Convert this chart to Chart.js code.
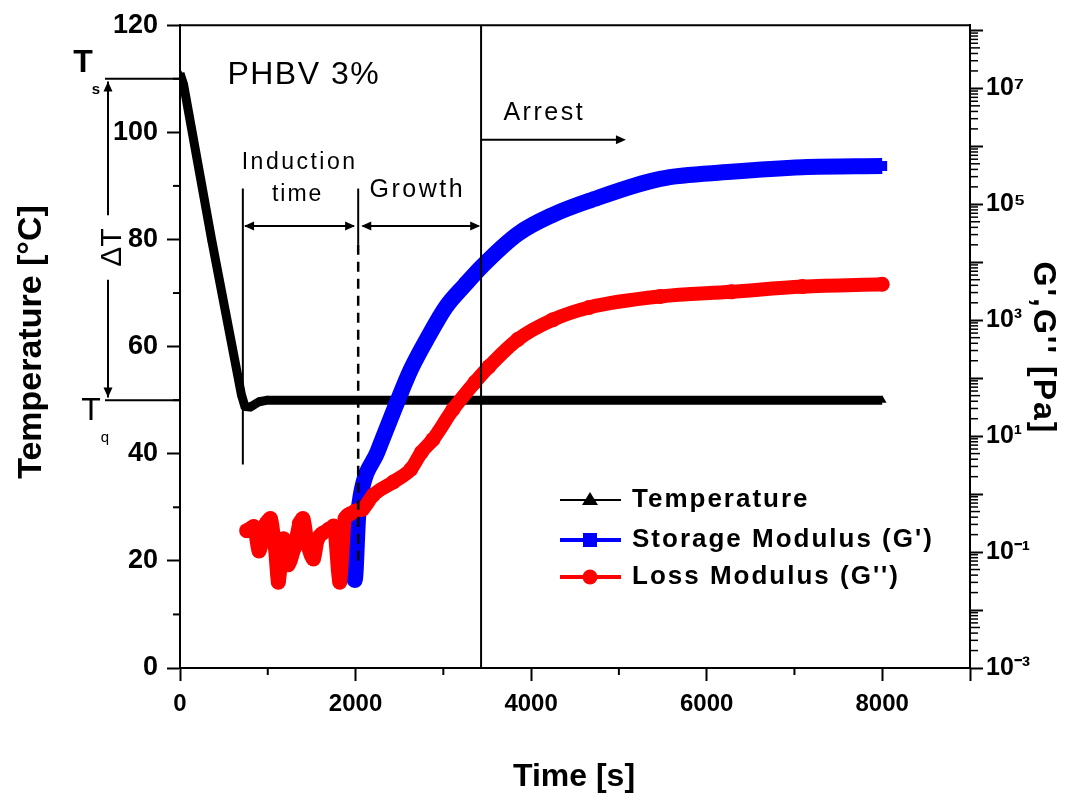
<!DOCTYPE html>
<html>
<head>
<meta charset="utf-8">
<title>PHBV 3% isothermal crystallization</title>
<script src="https://cdn.jsdelivr.net/npm/chart.js@4.4.1/dist/chart.umd.min.js"></script>
<style>
  html, body { margin: 0; padding: 0; background: #fff; }
  #wrap { width: 1087px; height: 804px; }
</style>
</head>
<body>
<div id="wrap"><canvas id="chart" width="1087" height="804"></canvas></div>
<script>
// temperature program, time in s and T in °C
const tempTime = [0, 40, 360, 700, 740, 800, 900, 1000, 8000];
const tempValues = [111, 109, 80, 51, 48.8, 48.7, 49.7, 50, 50];

// storage modulus G', values as log10(Pa)
const storageTime = [1880, 1940, 1990, 2030, 2060, 2250, 2430, 2630, 2830, 3030, 3240, 3440, 3850, 4250, 4660, 5470, 6280, 7090, 8000];
const storageLog = [-0.74, -0.55, -1.48, -0.38, -0.01, 0.73, 1.42, 2.15, 2.72, 3.23, 3.6, 3.93, 4.49, 4.82, 5.06, 5.44, 5.56, 5.64, 5.66];

// loss modulus G'', values as log10(Pa)
const lossTime = [760, 840, 900, 980, 1030, 1080, 1120, 1180, 1230, 1300, 1360, 1400, 1460, 1520, 1570, 1620, 1700, 1750, 1820, 1880, 1940, 2000, 2080, 2200, 2430, 2630, 2750, 2880, 3110, 3360, 3520, 3850, 4250, 4660, 5470, 6280, 7090, 8000];
const lossLog = [-0.63, -0.56, -0.98, -0.51, -0.42, -0.89, -1.52, -0.77, -1.22, -0.94, -0.51, -0.42, -0.91, -1.12, -0.77, -0.68, -0.6, -0.55, -1.52, -0.42, -0.34, -0.29, -0.26, -0.02, 0.21, 0.43, 0.72, 0.94, 1.46, 1.93, 2.2, 2.67, 3.01, 3.22, 3.41, 3.49, 3.58, 3.62];

const seriesNames = ['Temperature', "Storage Modulus (G')", "Loss Modulus (G'')"];
const xTicks = [0, 2000, 4000, 6000, 8000];
const tempTicks = [0, 20, 40, 60, 80, 100, 120];
const modExponents = [7, 5, 3, 1, -1, -3];

// modulus axis range (log scale)
const gMin = 1e-3;
const gMax = Math.pow(10, 8.09);

const FONT = '"Liberation Sans", Arial, Helvetica, sans-serif';
const SUP = {'-': '\u207B', '0': '\u2070', '1': '\u00B9', '2': '\u00B2', '3': '\u00B3', '4': '\u2074', '5': '\u2075', '6': '\u2076', '7': '\u2077', '8': '\u2078', '9': '\u2079'};
const sup = n => String(n).split('').map(c => SUP[c]).join('');

const toPoints = (xs, ys) => xs.map((t, i) => ({x: t, y: ys[i]}));
const toPointsLog = (xs, ys) => xs.map((t, i) => ({x: t, y: Math.pow(10, ys[i])}));

function line(ctx, x1, y1, x2, y2) {
  ctx.beginPath();
  ctx.moveTo(x1, y1);
  ctx.lineTo(x2, y2);
  ctx.stroke();
}

// small filled arrow head, dx/dy = direction it points
function head(ctx, x, y, dx, dy) {
  const len = 10, w = 4.5;
  const px = -dy, py = dx;
  ctx.beginPath();
  ctx.moveTo(x, y);
  ctx.lineTo(x - dx * len + px * w, y - dy * len + py * w);
  ctx.lineTo(x - dx * len - px * w, y - dy * len - py * w);
  ctx.closePath();
  ctx.fill();
}

function text(ctx, str, x, y, font, align, spacing, baseline) {
  ctx.font = font;
  ctx.textAlign = align || 'center';
  ctx.textBaseline = baseline || 'middle';
  ctx.letterSpacing = (spacing || 0) + 'px';
  ctx.fillText(str, x, y);
  ctx.letterSpacing = '0px';
}

const annotate = {
  id: 'annotate',
  afterDatasetsDraw(chart) {
    const {ctx, chartArea: a, scales: {x, yT}} = chart;
    const px = v => x.getPixelForValue(v);
    const py = v => yT.getPixelForValue(v);
    ctx.save();
    ctx.strokeStyle = '#000';
    ctx.fillStyle = '#000';
    ctx.lineWidth = 2;

    // Ts and Tq levels, with the ΔT span outside the axis
    line(ctx, a.left - 75, py(110), a.left, py(110));
    line(ctx, a.left - 75, py(50), a.left, py(50));
    const ax = a.left - 72;
    line(ctx, ax, py(109.5), ax, py(84.5));
    line(ctx, ax, py(72.5), ax, py(50.5));
    head(ctx, ax, py(109.5), 0, -1);
    head(ctx, ax, py(50.5), 0, 1);
    ctx.save();
    ctx.translate(ax + 13, py(78.5));
    ctx.rotate(-Math.PI / 2);
    text(ctx, '\u0394T', 0, 0, '30px ' + FONT, 'center', 0, 'alphabetic');
    ctx.restore();
    text(ctx, 'T', a.left - 97, py(113), 'bold 32px ' + FONT, 'center');
    text(ctx, 's', a.left - 84, py(108), 'bold 15px ' + FONT, 'center');
    text(ctx, 'T', a.left - 89, py(48), '32px ' + FONT, 'center');
    text(ctx, 'q', a.left - 75, py(43), '15px ' + FONT, 'center');

    // induction / growth / arrest markers
    line(ctx, px(716), py(89.5), px(716), py(38));
    line(ctx, px(2030), py(89.5), px(2030), py(79));
    ctx.setLineDash([10, 7]);
    ctx.lineWidth = 2.5;
    line(ctx, px(2030), py(79), px(2030), py(20));
    ctx.setLineDash([]);
    ctx.lineWidth = 2;
    line(ctx, px(3430), a.top, px(3430), a.bottom);

    const ay = py(82.5);
    line(ctx, px(740), ay, px(1980), ay);
    head(ctx, px(730), ay, -1, 0);
    head(ctx, px(1995), ay, 1, 0);
    line(ctx, px(2080), ay, px(3400), ay);
    head(ctx, px(2065), ay, -1, 0);
    head(ctx, px(3420), ay, 1, 0);

    const ry = py(98.6);
    line(ctx, px(3430), ry, px(5000), ry);
    head(ctx, px(5080), ry, 1, 0);

    text(ctx, 'PHBV 3%', px(540), py(110.7), '32px ' + FONT, 'left', 1.5);
    text(ctx, 'Induction', px(1363), py(94.4), '23px ' + FONT, 'center', 2.5);
    text(ctx, 'time', px(1340), py(88.3), '23px ' + FONT, 'center', 2);
    text(ctx, 'Growth', px(2704), py(89.2), '25px ' + FONT, 'center', 2.5);
    text(ctx, 'Arrest', px(4150), py(103.6), '25px ' + FONT, 'center', 2.5);
    ctx.restore();
  },
  afterDraw(chart) {
    const {ctx, chartArea: a, scales: {x, yT, yG}} = chart;
    ctx.save();
    ctx.strokeStyle = '#000';
    ctx.fillStyle = '#000';
    ctx.lineWidth = 2;

    // top frame
    line(ctx, a.left, a.top, a.right, a.top);

    // minor ticks
    for (let t = 1000; t < 9000; t += 2000) {
      const p = x.getPixelForValue(t);
      line(ctx, p, a.bottom, p, a.bottom + 7);
    }
    for (let v = 10; v < 120; v += 20) {
      const p = yT.getPixelForValue(v);
      line(ctx, a.left, p, a.left - 7, p);
    }
    ctx.lineWidth = 1.5;
    for (let d = -3; d <= 8; d++) {
      for (let k = 2; k <= 9; k++) {
        const v = k * Math.pow(10, d);
        if (v <= gMin || v >= gMax) continue;
        const p = yG.getPixelForValue(v);
        line(ctx, a.right, p, a.right + (k === 5 ? 10 : 8), p);
      }
    }

    // axis titles
    ctx.save();
    ctx.translate(41, 342);
    ctx.rotate(-Math.PI / 2);
    text(ctx, 'Temperature [\u00B0C]', 0, 0, 'bold 34px ' + FONT, 'center', 0, 'alphabetic');
    ctx.restore();
    ctx.save();
    ctx.translate(1034, 348);
    ctx.rotate(Math.PI / 2);
    text(ctx, "G',G'' [Pa]", 0, 0, 'bold 32px ' + FONT, 'center', 2, 'alphabetic');
    ctx.restore();
    text(ctx, 'Time [s]', (a.left + a.right) / 2 - 1, 777, 'bold 32px ' + FONT, 'center', 0);

    // legend: line with marker, then label
    const rows = [500, 540, 577];
    chart.data.datasets.forEach((ds, i) => {
      const y = rows[i];
      ctx.strokeStyle = ds.borderColor;
      ctx.fillStyle = ds.borderColor;
      ctx.lineWidth = i === 0 ? 2 : 4;
      line(ctx, 560, y, 621, y);
      if (ds.pointStyle === 'triangle') {
        ctx.beginPath();
        ctx.moveTo(590, y - 8);
        ctx.lineTo(598, y + 5);
        ctx.lineTo(582, y + 5);
        ctx.closePath();
        ctx.fill();
      } else if (ds.pointStyle === 'rect') {
        ctx.fillRect(583, y - 7, 14, 14);
      } else {
        ctx.beginPath();
        ctx.arc(590, y, 7.5, 0, Math.PI * 2);
        ctx.fill();
      }
      ctx.fillStyle = '#000';
      text(ctx, ds.label, 632, y, 'bold 26px ' + FONT, 'left', 2);
    });
    ctx.restore();
  }
};

new Chart(document.getElementById('chart'), {
  type: 'line',
  data: {
    datasets: [
      {
        label: seriesNames[0],
        data: toPoints(tempTime, tempValues),
        yAxisID: 'yT',
        borderColor: '#000000',
        backgroundColor: '#000000',
        borderWidth: 9,
        pointStyle: 'triangle',
        pointRadius: 5,
        pointBorderWidth: 0,
        borderJoinStyle: 'round',
        order: 3
      },
      {
        label: seriesNames[1],
        data: toPointsLog(storageTime, storageLog),
        yAxisID: 'yG',
        borderColor: '#0000ff',
        backgroundColor: '#0000ff',
        borderWidth: 16,
        pointStyle: 'rect',
        pointRadius: 7,
        pointBorderWidth: 0,
        borderJoinStyle: 'round',
        borderCapStyle: 'butt',
        cubicInterpolationMode: 'monotone',
        order: 2
      },
      {
        label: seriesNames[2],
        data: toPointsLog(lossTime, lossLog),
        yAxisID: 'yG',
        borderColor: '#ff0000',
        backgroundColor: '#ff0000',
        borderWidth: 14,
        pointStyle: 'circle',
        pointRadius: 7.5,
        pointBorderWidth: 0,
        borderJoinStyle: 'round',
        borderCapStyle: 'round',
        cubicInterpolationMode: 'monotone',
        order: 1
      }
    ]
  },
  options: {
    responsive: false,
    animation: false,
    devicePixelRatio: 1,
    layout: { padding: { top: 25, left: 0, right: 0, bottom: 0 } },
    plugins: { legend: { display: false }, tooltip: { enabled: false } },
    scales: {
      x: {
        type: 'linear',
        position: 'bottom',
        min: 0,
        max: 9000,
        afterFit: axis => { axis.height = 136; },
        afterBuildTicks: axis => {
          axis.ticks = xTicks.concat([9000]).map(v => ({value: v}));
        },
        ticks: {
          autoSkip: false,
          maxRotation: 0,
          padding: 9,
          color: '#000',
          font: { family: FONT, size: 24, weight: 'bold' },
          callback: v => (xTicks.includes(v) ? String(v) : '')
        },
        grid: { drawOnChartArea: false, drawTicks: true, tickLength: 13, tickWidth: 2, tickColor: '#000' },
        border: { display: true, color: '#000', width: 2 }
      },
      yT: {
        type: 'linear',
        position: 'left',
        min: 0,
        max: 120,
        afterFit: axis => { axis.width = 180; },
        afterBuildTicks: axis => {
          axis.ticks = tempTicks.map(v => ({value: v}));
        },
        ticks: {
          autoSkip: false,
          padding: 9,
          color: '#000',
          font: { family: FONT, size: 27, weight: 'bold' },
          callback: v => String(v)
        },
        grid: { drawOnChartArea: false, drawTicks: true, tickLength: 13, tickWidth: 2, tickColor: '#000' },
        border: { display: true, color: '#000', width: 2 }
      },
      yG: {
        type: 'logarithmic',
        position: 'right',
        min: gMin,
        max: gMax,
        afterFit: axis => { axis.width = 117; },
        afterBuildTicks: axis => {
          const t = [];
          for (let d = -3; d <= 8; d++) t.push({value: Math.pow(10, d)});
          axis.ticks = t;
        },
        ticks: {
          autoSkip: false,
          padding: 3,
          color: '#000',
          font: { family: FONT, size: 25, weight: 'bold' },
          callback: v => {
            const e = Math.round(Math.log10(v));
            return modExponents.includes(e) ? '10' + sup(e) : '';
          }
        },
        grid: { drawOnChartArea: false, drawTicks: true, tickLength: 13, tickWidth: 2, tickColor: '#000' },
        border: { display: true, color: '#000', width: 2 }
      }
    }
  },
  plugins: [annotate]
});
</script>
</body>
</html>
